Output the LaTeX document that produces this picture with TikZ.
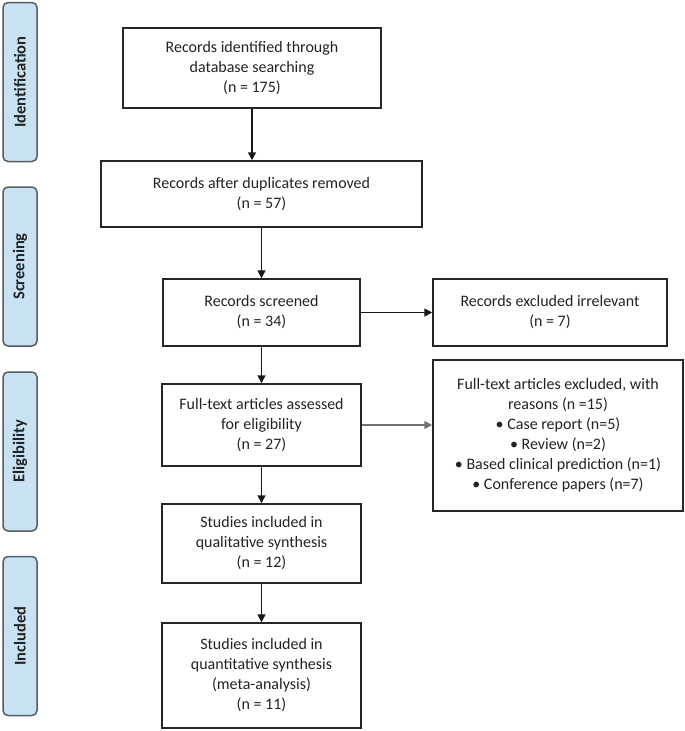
\documentclass[tikz,border=0pt]{standalone}
\usepackage{fontspec}
\setmainfont{Carlito}
\usetikzlibrary{arrows.meta}
\definecolor{barfill}{RGB}{200,226,244}
\definecolor{barline}{RGB}{85,92,100}
\definecolor{txt}{RGB}{35,35,35}
\tikzset{
  x=1pt, y=-1pt,
  box/.style={draw=black!85, line width=1.5pt, fill=white, align=center, inner sep=2pt,
    font=\fontsize{16}{20}\selectfont, text=txt},
  bar/.style={draw=barline, line width=1.5pt, fill=barfill, rounded corners=5pt,
    minimum width=34pt, minimum height=159pt, inner sep=0pt},
  barlabel/.style={rotate=90, font=\bfseries\fontsize{16.5}{19}\selectfont, text=txt},
  flow/.style={-{Triangle[length=8pt,width=8pt]}, line width=1.6pt, draw=black!90},
  flowgray/.style={-{Triangle[length=8pt,width=8pt]}, line width=1.6pt, draw=black!55},
}
\begin{document}
\begin{tikzpicture}
\useasboundingbox (0,0) rectangle (685,731);
% side bars
\node[bar] (bid) at (20,82) {};
\node[barlabel] (lid) at (bid.center) {Identification};
\node[bar] (bsc) at (20,266.5) {};
\node[barlabel] (lsc) at (bsc.center) {Screening};
\node[bar] (bel) at (20,451.5) {};
\node[barlabel] (lel) at (bel.center) {Eligibility};
\node[bar] (bin) at (20,636) {};
\node[barlabel] (lin) at (bin.center) {Included};
% main boxes
\node[box, minimum width=258pt, minimum height=80pt] (b1) at (252,68)
  {Records identified through\\database searching\\(n = 175)};
\node[box, minimum width=321pt, minimum height=66pt] (b2) at (261.5,194)
  {Records after duplicates removed\\(n = 57)};
\node[box, minimum width=197pt, minimum height=67pt] (b3) at (261.5,312.5)
  {Records screened\\(n = 34)};
\node[box, minimum width=234pt, minimum height=67pt] (r1) at (550,312.5)
  {Records excluded irrelevant\\(n = 7)};
\node[box, minimum width=199pt, minimum height=82pt] (b4) at (261.5,425)
  {Full-text articles assessed\\for eligibility\\(n = 27)};
\node[box, minimum width=250pt, minimum height=151pt] (r2) at (558,435.5)
  {Full-text articles excluded, with\\reasons (n =15)\\\textbullet{} Case report (n=5)\\\textbullet{} Review (n=2)\\\textbullet{} Based clinical prediction (n=1)\\\textbullet{} Conference papers (n=7)};
\node[box, minimum width=199pt, minimum height=79pt] (b5) at (261.5,543.5)
  {Studies included in\\qualitative synthesis\\(n = 12)};
\node[box, minimum width=199pt, minimum height=105pt] (b6) at (261.5,675.5)
  {Studies included in\\quantitative synthesis\\(meta-analysis)\\(n = 11)};
% connectors
\draw[flow] (b1.south) -- (b1.south |- b2.north);
\draw[flow] (b2.south -| b3.north) -- (b3.north);
\draw[flow] (b3.east) -- (b3.east -| r1.west);
\draw[flow] (b3.south) -- (b4.north);
\draw[flowgray] (b4.east) -- (b4.east -| r2.west);
\draw[flow] (b4.south) -- (b5.north);
\draw[flow] (b5.south) -- (b6.north);
\end{tikzpicture}
\end{document}
